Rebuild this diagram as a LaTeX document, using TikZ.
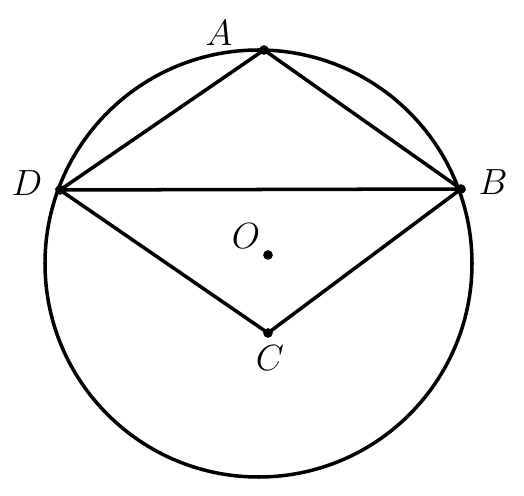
\documentclass[tikz,border=0pt]{standalone}
\usepackage{amsmath}
\begin{document}
\begin{tikzpicture}[x=0.02cm,y=-0.02cm,line width=2pt]
		\tikzstyle{dot}=[circle,fill=black,draw=none,inner sep=0pt,minimum size=5.5pt]
		\tikzstyle{lbl}=[inner sep=0pt,font=\fontsize{21}{24}\selectfont]
		
		\useasboundingbox (0,0) rectangle (524,496);
		
		\coordinate (O) at (268,255);
		\draw (258.5,263.5) circle (213.5);
		
		\coordinate (A) at (264,50);
		\coordinate (B) at (461,189);
		\coordinate (C) at (268,333);
		\coordinate (D) at (60,190);
		
		\draw (D) -- (A) -- (B) -- (D) -- (C) -- (B);
		
		\foreach \p in {A,B,C,D,O}
		\node[dot] at (\p) {};
		
		\node[lbl] (lA) at (219,33)  {$A$};
		\node[lbl] (lB) at (493,182) {$B$};
		\node[lbl] (lC) at (270,358) {$C$};
		\node[lbl] (lD) at (27,183)  {$D$};
		\node[lbl] (lO) at (246,236) {$O$};
\end{tikzpicture}
\end{document}
